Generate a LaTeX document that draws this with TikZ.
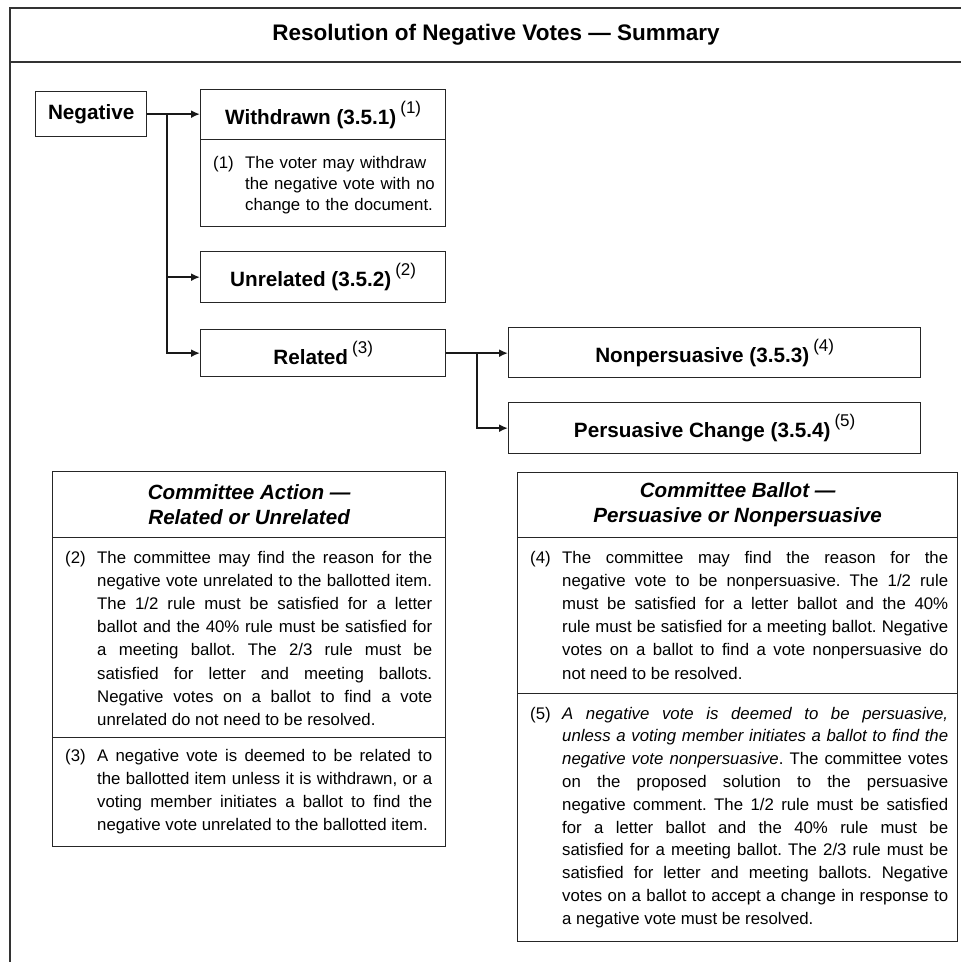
\documentclass[tikz,border=0pt]{standalone}
\usepackage{fontspec}
\setmainfont{Liberation Sans}
\usetikzlibrary{arrows.meta}
\newcommand{\supn}[1]{\hspace{4pt}\raisebox{11pt}{\fontsize{17}{17}\selectfont\mdseries #1}}
\frenchspacing
\tolerance=10000
\pretolerance=-1
\hyphenpenalty=10000
\exhyphenpenalty=10000
\begin{document}
\begin{tikzpicture}[x=1pt,y=-1pt,
  frame/.style={line width=1.6pt, draw=black!80},
  bx/.style={draw=black!85, line width=1.3pt, rectangle, inner sep=0pt, anchor=north west},
  lbl/.style={font=\fontsize{20.7}{24}\selectfont\bfseries},
  ttl/.style={font=\fontsize{20.6}{25}\selectfont\bfseries\itshape, align=center, inner sep=0pt},
  body/.style={font=\fontsize{16.8}{23.2}\selectfont, anchor=base west, inner sep=0pt, align=left},
  jbody/.style={font=\fontsize{16.8}{23.2}\selectfont, anchor=base west, inner sep=0pt, align=justify},
  num/.style={font=\fontsize{16.8}{23.2}\selectfont, anchor=base west, inner sep=0pt},
  conn/.style={line width=1.8pt, draw=black!90},
  arr/.style={conn, -{Latex[length=9pt,width=8pt]}},
]
\useasboundingbox (0,0) rectangle (961,962);
% frame
\coordinate (ftl) at (10,8);
\coordinate (fbl) at (10,962);
\coordinate (ftr) at (961,8);
\coordinate (hl) at (10,62);
\coordinate (hr) at (961,62);
\draw[frame] (fbl) -- (ftl) -- (ftr);
\draw[frame] (hl) -- (hr);
\node[font=\fontsize{22.5}{26}\selectfont\bfseries, inner sep=0pt] (title) at (496,35) {Resolution of Negative Votes \textemdash\ Summary};

% top flow boxes
\node[bx, lbl, minimum width=111pt, minimum height=45pt] (neg) at (35,91) {Negative};
\node[bx, lbl, minimum width=245pt, minimum height=50pt] (wdT) at (200,89) {Withdrawn (3.5.1)\supn{(1)}};
\node[bx, minimum width=245pt, minimum height=87pt] (wdB) at (200,139) {};
\node[num] (n1) at (213,168) {(1)};
\node[body, text width=195pt, font=\fontsize{16.8}{21}\selectfont] (t1) at (245,168) {The voter may withdraw\\the negative vote with no\\change to the document.};
\node[bx, lbl, minimum width=245pt, minimum height=51pt] (unr) at (200,251) {Unrelated (3.5.2)\supn{(2)}};
\node[bx, lbl, minimum width=245pt, minimum height=47pt] (rel) at (200,329) {Related\supn{(3)}};
\node[bx, lbl, minimum width=412pt, minimum height=50pt] (np) at (508,327) {Nonpersuasive (3.5.3)\supn{(4)}};
\node[bx, lbl, minimum width=412pt, minimum height=51pt] (pc) at (508,402) {Persuasive Change (3.5.4)\supn{(5)}};

% connectors
\coordinate (j1) at (167,113.5);
\draw[arr] (neg.east) -- (neg.east -| wdT.west);
\draw[arr] (j1) |- (unr.west);
\draw[arr] (j1) |- (rel.west);
\coordinate (j2) at (477,352.5);
\draw[arr] (rel.east) -- (rel.east -| np.west);
\draw[arr] (j2) |- (pc.west);

% Committee Action box
\node[bx, minimum width=393pt, minimum height=66pt] (caT) at (52,471) {};
\node[ttl] (caTt) at (caT.center) {Committee Action \textemdash\\Related or Unrelated};
\node[bx, minimum width=393pt, minimum height=200pt] (caB2) at (52,537) {};
\node[bx, minimum width=393pt, minimum height=109pt] (caB3) at (52,737) {};
\node[num] (n2) at (65,563) {(2)};
\node[jbody, text width=335pt] (t2) at (97,563) {%
The committee may find the reason for the\linebreak
negative vote unrelated to the ballotted item.\linebreak
The 1/2 rule must be satisfied for a letter\linebreak
ballot and the 40\% rule must be satisfied for\linebreak
a meeting ballot. The 2/3 rule must be\linebreak
satisfied for letter and meeting ballots.\linebreak
Negative votes on a ballot to find a vote\linebreak
unrelated do not need to be resolved.};
\node[num] (n3) at (65,761) {(3)};
\node[jbody, text width=335pt, font=\fontsize{16.8}{23.3}\selectfont] (t3) at (97,761) {%
A negative vote is deemed to be related to\linebreak
the ballotted item unless it is withdrawn, or a\linebreak
voting member initiates a ballot to find the\linebreak
negative vote unrelated to the ballotted item.};

% Committee Ballot box
\node[bx, minimum width=440pt, minimum height=65pt] (cbT) at (517,472) {};
\node[ttl] (cbTt) at (cbT.center) {Committee Ballot \textemdash\\Persuasive or Nonpersuasive};
\node[bx, minimum width=440pt, minimum height=156pt] (cbB4) at (517,537) {};
\node[bx, minimum width=440pt, minimum height=248pt] (cbB5) at (517,693) {};
\node[num] (n4) at (530,563) {(4)};
\node[jbody, text width=386pt] (t4) at (562,563) {%
The committee may find the reason for the\linebreak
negative vote to be nonpersuasive. The 1/2 rule\linebreak
must be satisfied for a letter ballot and the 40\%\linebreak
rule must be satisfied for a meeting ballot. Negative\linebreak
votes on a ballot to find a vote nonpersuasive do\linebreak
not need to be resolved.};
\node[num] (n5) at (530,719) {(5)};
\node[jbody, text width=386pt, font=\fontsize{16.8}{22.8}\selectfont] (t5) at (562,719) {%
{\itshape A negative vote is deemed to be persuasive,\linebreak
unless a voting member initiates a ballot to find the\linebreak
negative vote nonpersuasive}. The committee votes\linebreak
on the proposed solution to the persuasive\linebreak
negative comment. The 1/2 rule must be satisfied\linebreak
for a letter ballot and the 40\% rule must be\linebreak
satisfied for a meeting ballot. The 2/3 rule must be\linebreak
satisfied for letter and meeting ballots. Negative\linebreak
votes on a ballot to accept a change in response to\linebreak
a negative vote must be resolved.};
\end{tikzpicture}
\end{document}
